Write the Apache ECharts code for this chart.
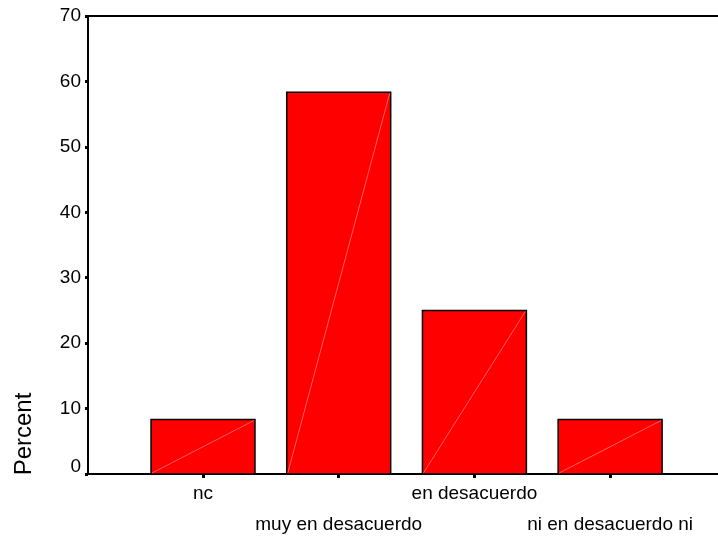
<!DOCTYPE html>
<html>
<head>
<meta charset="utf-8">
<script src="https://cdn.jsdelivr.net/npm/echarts@6/dist/echarts.min.js"></script>
<style>html,body{margin:0;padding:0;background:#fff}#c{width:718px;height:537px}</style>
</head>
<body>
<div id="c"></div>
<script>
var categories = ['nc', 'muy en desacuerdo', 'en desacuerdo', 'ni en desacuerdo ni'];
var percents = [8.33, 58.33, 25.0, 8.33];
var yTicks = [0, 10, 20, 30, 40, 50, 60, 70];

var FONT = '"Liberation Sans", Arial, sans-serif';
var positions = categories.map(function (c, i) { return i + 1; });
var upperRow = positions.filter(function (p, i) { return i % 2 === 0; });
var lowerRow = positions.filter(function (p, i) { return i % 2 === 1; });
var seriesData = positions.map(function (p, i) { return [p, percents[i]]; });

var X_MIN = 0.1525, X_MAX = 4.795;
function catLabel(v) { return categories[Math.round(v) - 1]; }

var chart = echarts.init(document.getElementById('c'), null, {renderer: 'canvas'});
chart.setOption({
  animation: false,
  backgroundColor: '#fff',
  grid: {left: 88, right: 0, top: 16, bottom: 63, containLabel: false, outerBoundsMode: 'none'},
  xAxis: [{
    type: 'value',
    position: 'bottom',
    min: X_MIN, max: X_MAX,
    splitLine: {show: false},
    axisLine: {show: true, onZero: false, lineStyle: {color: '#000', width: 2}},
    axisTick: {show: true, customValues: positions, length: 4, lineStyle: {color: '#000', width: 3}},
    axisLabel: {
      customValues: upperRow, margin: 10, hideOverlap: false,
      color: '#000', fontFamily: FONT, fontSize: 19, formatter: catLabel
    }
  }, {
    type: 'value',
    position: 'bottom',
    min: X_MIN, max: X_MAX,
    splitLine: {show: false},
    axisLine: {show: false, onZero: false},
    axisTick: {show: false},
    axisLabel: {
      customValues: lowerRow, margin: 41, hideOverlap: false,
      color: '#000', fontFamily: FONT, fontSize: 19, formatter: catLabel
    }
  }, {
    type: 'value',
    position: 'top',
    min: X_MIN, max: X_MAX,
    splitLine: {show: false},
    axisLine: {show: true, onZero: false, lineStyle: {color: '#000', width: 2}},
    axisTick: {show: false},
    axisLabel: {show: false}
  }],
  yAxis: {
    type: 'value',
    min: 0, max: 70, interval: 10,
    splitLine: {show: false},
    axisLine: {show: true, lineStyle: {color: '#000', width: 2}},
    axisTick: {show: true, length: 3, lineStyle: {color: '#000', width: 3}},
    axisLabel: {
      color: '#000', fontFamily: FONT, fontSize: 19, margin: 7,
      formatter: function (v) {
        if (yTicks.indexOf(v) < 0) return '';
        return v === 0 ? '{z|0}' : String(v);
      },
      rich: {z: {fontFamily: FONT, fontSize: 19, color: '#000', padding: [0, 0, 14, 0]}}
    }
  },
  graphic: [{
    type: 'text',
    x: 24, y: 434,
    rotation: Math.PI / 2,
    style: {text: 'Percent', font: '24px ' + FONT, fill: '#000', textAlign: 'center', textVerticalAlign: 'middle'}
  }],
  series: [{
    type: 'custom',
    xAxisIndex: 0,
    yAxisIndex: 0,
    data: seriesData,
    renderItem: function (params, api) {
      var x = api.value(0), v = api.value(1);
      var top = api.coord([x, v]);
      var bot = api.coord([x, 0]);
      var w = api.size([0.766, 0])[0];
      var l = top[0] - w / 2, r = top[0] + w / 2;
      return {
        type: 'group',
        children: [{
          type: 'rect',
          shape: {x: l, y: top[1], width: w, height: bot[1] - top[1]},
          style: {fill: '#ff0000', stroke: '#000', lineWidth: 1.5}
        }, {
          type: 'line',
          shape: {x1: l + 1, y1: bot[1] - 1, x2: r - 1, y2: top[1] + 1},
          style: {stroke: 'rgba(255,200,200,0.8)', lineWidth: 0.6}
        }]
      };
    }
  }]
});
</script>
</body>
</html>
